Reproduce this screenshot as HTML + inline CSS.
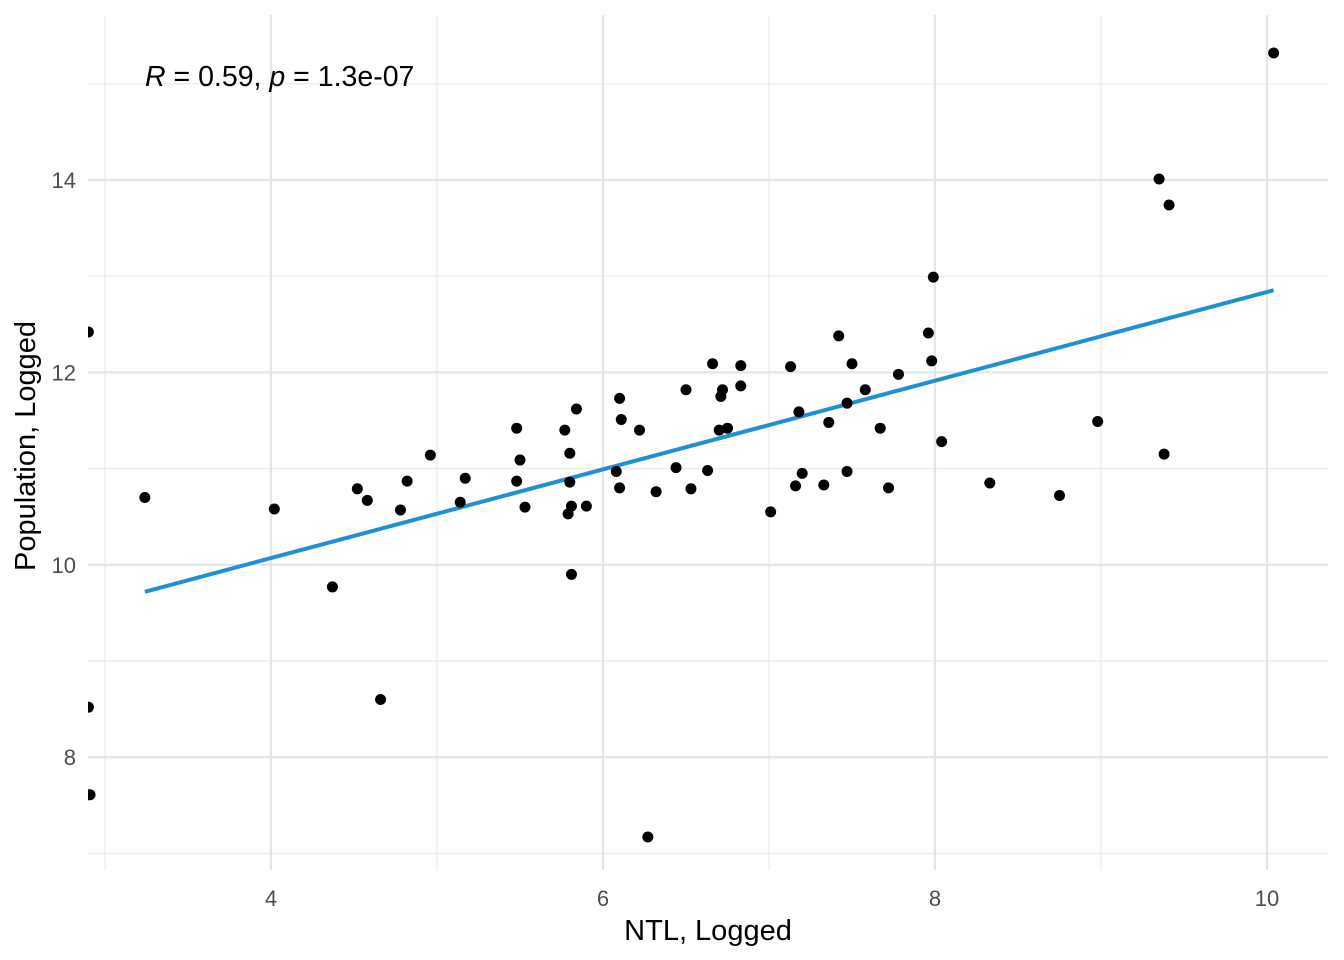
<!DOCTYPE html>
<html><head><meta charset="utf-8"><style>
html,body{margin:0;padding:0;background:#fff;}
svg{display:block;font-family:"Liberation Sans",Arial,sans-serif;}
</style></head><body>
<svg id="chart" width="1344" height="960">
<defs><clipPath id="panel"><rect x="88" y="15" width="1240" height="855"/></clipPath></defs>
<g id="grid"></g>
<g id="fit"></g>
<g id="pts" clip-path="url(#panel)"></g>
<g id="axes"></g>
<text x="145" y="86" font-size="28.5" fill="#000"><tspan font-style="italic">R</tspan> = 0.59, <tspan font-style="italic">p</tspan> = 1.3e-07</text>
<text x="708" y="940" font-size="29" text-anchor="middle" fill="#000">NTL, Logged</text>
<text transform="translate(35,446) rotate(-90)" font-size="29" text-anchor="middle" fill="#000">Population, Logged</text>
</svg>
<script>
const xVals=[2.90,2.90,2.90,2.91,3.24,4.02,4.37,4.52,4.58,4.66,4.78,4.82,4.96,5.14,5.17,5.48,5.48,5.50,5.53,5.77,5.80,5.80,5.79,5.81,5.81,5.84,5.90,6.08,6.10,6.10,6.11,6.22,6.27,6.32,6.44,6.50,6.53,6.63,6.66,6.70,6.71,6.72,6.75,6.83,6.83,7.01,7.13,7.16,7.18,7.20,7.33,7.36,7.42,7.47,7.47,7.50,7.58,7.67,7.72,7.78,7.96,7.98,7.99,8.04,8.33,8.75,8.98,9.35,9.38,9.41,10.04];
const yVals=[12.42,8.52,7.61,7.61,10.70,10.58,9.77,10.79,10.67,8.60,10.57,10.87,11.14,10.65,10.90,10.87,11.42,11.09,10.60,11.40,11.16,10.86,10.53,10.61,9.90,11.62,10.61,10.97,10.80,11.73,11.51,11.40,7.17,10.76,11.01,11.82,10.79,10.98,12.09,11.40,11.75,11.82,11.42,12.07,11.86,10.55,12.06,10.82,11.59,10.95,10.83,11.48,12.38,11.68,10.97,12.09,11.82,11.42,10.80,11.98,12.41,12.12,12.99,11.28,10.85,10.72,11.49,14.01,11.15,13.74,15.32];
const fitIntercept=8.226, fitSlope=0.461, fitRange=[3.24,10.04];
const xTicks=[4,6,8,10], xMinor=[3,5,7,9];
const yTicks=[8,10,12,14], yMinor=[7,9,11,13,15];
const L=88,R=1328,T=15,B=870;
const sx=v=>271+(v-4)*166;
const sy=v=>180-(v-14)*96.2;
const NS='http://www.w3.org/2000/svg';
function mk(tag,parent,attrs){const e=document.createElementNS(NS,tag);for(const k in attrs)e.setAttribute(k,attrs[k]);parent.appendChild(e);return e;}
const grid=document.getElementById('grid'),axes=document.getElementById('axes');
xMinor.forEach(v=>{const l=mk('line',grid,{x1:sx(v),x2:sx(v),y1:T,y2:B,stroke:'#ebebeb','stroke-width':1.2});

});
yMinor.forEach(v=>{const l=mk('line',grid,{x1:L,x2:R,y1:sy(v),y2:sy(v),stroke:'#ebebeb','stroke-width':1.2});

});
xTicks.forEach(v=>{const l=mk('line',grid,{x1:sx(v),x2:sx(v),y1:T,y2:B,stroke:'#e5e5e5','stroke-width':2.2});


const t=mk('text',axes,{x:sx(v),y:906,'font-size':22,'text-anchor':'middle',fill:'#4d4d4d'});t.textContent=v;

});
yTicks.forEach(v=>{const l=mk('line',grid,{x1:L,x2:R,y1:sy(v),y2:sy(v),stroke:'#e5e5e5','stroke-width':2.2});


const t=mk('text',axes,{x:76,y:sy(v)+8,'font-size':22,'text-anchor':'end',fill:'#4d4d4d'});t.textContent=v;

});
const fl=mk('line',document.getElementById('fit'),{x1:sx(fitRange[0]),y1:sy(fitIntercept+fitSlope*fitRange[0]),x2:sx(fitRange[1]),y2:sy(fitIntercept+fitSlope*fitRange[1]),stroke:'#1f8fd6','stroke-width':4});


const pts=document.getElementById('pts');
xVals.forEach((x,i)=>{const c=mk('circle',pts,{cx:sx(x),cy:sy(yVals[i]),r:5.5,fill:'#000'});

});
</script>
</body></html>
